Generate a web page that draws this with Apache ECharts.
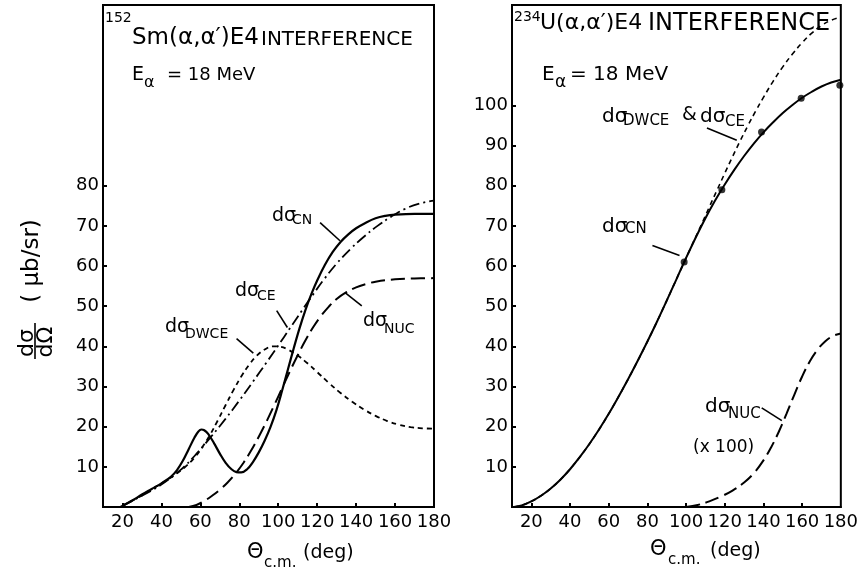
<!DOCTYPE html>
<html>
<head>
<meta charset="utf-8">
<script src="https://cdn.jsdelivr.net/npm/echarts@6/dist/echarts.min.js"></script>
<style>
  html, body { margin: 0; padding: 0; background: #fff; }
  #chart { width: 861px; height: 575px; }
</style>
</head>
<body>
<div id="chart"></div>
<script>
// axis ticks
var angleLabels = [20, 40, 60, 80, 100, 120, 140, 160, 180];
var angleMarks = [20, 40, 60, 80, 100, 120, 140, 160];
var smTicks = [10, 20, 30, 40, 50, 60, 70, 80];
var uTicks = [10, 20, 30, 40, 50, 60, 70, 80, 90, 100];

// 152Sm curves  [theta, dsigma/dOmega]
var smCN = [[19, 0], [25, 1.6], [30, 3.1], [35, 4.5], [40, 5.9], [45, 7.6], [48, 9.2], [51, 11.5],
  [54, 14.4], [57, 17.3], [59, 18.8], [60.5, 19.3], [62, 19.1], [64, 18.2], [67, 15.9], [70, 13.3],
  [73, 11], [76, 9.4], [78.5, 8.7], [81, 8.6], [84, 9.4], [87, 11.2], [90, 13.6], [93, 16.5], [96, 19.9],
  [99, 24], [102, 29], [105, 34.3], [108, 39.6], [111, 44.6], [114, 49.1], [117, 53], [120, 56.4],
  [124, 60.3], [128, 63.5], [132, 66], [136, 67.9], [140, 69.4], [145, 70.8], [150, 71.9], [155, 72.5],
  [160, 72.8], [170, 73], [180, 73]];
var smCE = [[20, 0.3], [30, 2.8], [40, 5.6], [50, 9.3], [57, 12.7], [65, 17.2], [73, 22], [80, 26.5],
  [87, 31.2], [94, 36], [100, 40.2], [106, 44.5], [112, 48.8], [118, 53], [124, 57], [130, 60.6],
  [137, 64.2], [144, 67.3], [151, 70], [158, 72.3], [165, 74.2], [172, 75.5], [180, 76.3]];
var smDWCE = [[20, 0.3], [30, 2.9], [40, 5.9], [46, 7.7], [52, 9.9], [57, 12.3], [61, 14.9], [65, 18],
  [69, 21.6], [73, 25.4], [77, 29.1], [81, 32.5], [85, 35.4], [89, 37.7], [93, 39.2], [97, 40], [101, 39.9],
  [105, 39.2], [110, 37.7], [115, 35.8], [120, 33.6], [126, 30.9], [132, 28.4], [138, 26.2], [144, 24.3],
  [150, 22.7], [156, 21.4], [162, 20.5], [168, 19.9], [174, 19.6], [180, 19.5]];
var smNUC = [[54, 0], [58, 0.5], [62, 1.5], [66, 2.8], [70, 4.3], [74, 6.1], [78, 8.3], [82, 10.9],
  [86, 14], [90, 17.5], [94, 21.3], [98, 25.4], [102, 29.6], [106, 33.8], [110, 37.8], [114, 41.5],
  [118, 44.8], [122, 47.6], [126, 49.9], [130, 51.8], [135, 53.5], [140, 54.7], [145, 55.5], [150, 56.1],
  [160, 56.7], [170, 56.9], [180, 57]];

// 234U curves
var uCN = [[11, 0], [15, 0.4], [20, 1.4], [25, 2.8], [30, 4.6], [35, 6.8], [40, 9.4], [45, 12.4],
  [50, 15.7], [55, 19.3], [60, 23.2], [65, 27.4], [70, 31.8], [75, 36.4], [80, 41.2], [85, 46.2],
  [90, 51.4], [95, 56.7], [100, 62], [105, 67.1], [110, 71.9], [115, 76.3], [120, 80.3], [125, 84],
  [130, 87.4], [135, 90.5], [140, 93.3], [145, 95.8], [150, 98.1], [155, 100.1], [160, 101.9],
  [165, 103.4], [170, 104.7], [175, 105.7], [180, 106.4]];
var uDWCE = [[11, 0], [15, 0.4], [20, 1.4], [25, 2.8], [30, 4.6], [35, 6.8], [40, 9.4], [45, 12.4],
  [50, 15.7], [55, 19.3], [60, 23.2], [65, 27.4], [70, 31.8], [75, 36.4], [80, 41.2], [85, 46.2],
  [90, 51.4], [95, 56.7], [100, 62], [104, 66.2], [108, 70.4], [112, 74.7], [116, 78.9], [120, 83.1],
  [124, 87.2], [128, 91.2], [132, 95], [136, 98.6], [140, 102], [145, 106], [150, 109.6], [155, 112.8],
  [160, 115.6], [165, 118], [170, 119.9], [175, 121.2], [180, 122]];
var uNUC = [[100, 0], [106, 0.5], [112, 1.4], [118, 2.6], [124, 4.1], [130, 6.1], [135, 8.4], [140, 11.6],
  [144, 14.9], [148, 18.8], [152, 23.3], [156, 28], [160, 32.5], [164, 36.3], [168, 39.2], [172, 41.3],
  [176, 42.6], [180, 43.2]];
var uPoints = [[99, 61], [118.5, 79], [139, 93.4], [159.5, 101.8], [179.5, 105]];

// label leader lines, in data units
var smLeaders = [
  [[121.5, 70.8], [131.7, 66.3]],
  [[99.2, 48.9], [104.7, 44.7]],
  [[78.6, 41.9], [87.2, 38.3]],
  [[142.9, 50.1], [134.3, 53.4]]
];
var uLeaders = [
  [[110.8, 94.4], [126.2, 91.3]],
  [[82.6, 65.1], [96.6, 62.6]],
  [[139.1, 24.7], [149.5, 21.5]]
];

var FONT = '"DejaVu Sans", sans-serif';

function txt(x, y, s, size, rot) {
  return {
    type: 'text', x: x, y: y, rotation: rot || 0, silent: true,
    style: {
      text: s, font: size + 'px ' + FONT, fill: '#000',
      textAlign: rot ? 'center' : 'left', align: rot ? 'center' : 'left',
      textVerticalAlign: 'middle', verticalAlign: 'middle'
    }
  };
}

function xAxisOf(i) {
  return {
    type: 'value', gridIndex: i, min: 10, max: 180,
    axisLine: { onZero: false, lineStyle: { color: '#000', width: 2 } },
    axisTick: { inside: true, length: 4, customValues: angleMarks, lineStyle: { color: '#000', width: 2 } },
    axisLabel: { customValues: angleLabels, color: '#000', fontSize: 18, fontFamily: FONT, margin: 6 },
    splitLine: { show: false }
  };
}

function yAxisOf(i, ticks) {
  return {
    type: 'value', gridIndex: i, min: 0, max: 125,
    axisLine: { onZero: false, lineStyle: { color: '#000', width: 2 } },
    axisTick: { inside: true, length: 4, customValues: ticks, lineStyle: { color: '#000', width: 2 } },
    axisLabel: { customValues: ticks, color: '#000', fontSize: 18, fontFamily: FONT, margin: 4 },
    splitLine: { show: false }
  };
}

function curve(data, grid, type, width) {
  return {
    type: 'line', data: data, xAxisIndex: grid, yAxisIndex: grid,
    smooth: 0.4, symbol: 'none', silent: true,
    lineStyle: { color: '#000', width: width, type: type },
    itemStyle: { color: '#000' }
  };
}

var series = [
  curve(smCN, 0, 'solid', 2.2),
  curve(smCE, 0, [11, 4, 2, 4], 1.8),
  curve(smDWCE, 0, [5, 4], 1.8),
  curve(smNUC, 0, [14, 6], 2),
  curve(uCN, 1, 'solid', 2),
  curve(uDWCE, 1, [5, 4], 1.6),
  curve(uNUC, 1, [14, 6], 2),
  {
    type: 'scatter', data: uPoints, xAxisIndex: 1, yAxisIndex: 1,
    symbol: 'circle', symbolSize: 7, silent: true, itemStyle: { color: '#000' }
  }
];
smLeaders.forEach(function (l) {
  series.push({ type: 'line', data: l, xAxisIndex: 0, yAxisIndex: 0, symbol: 'none', silent: true,
    lineStyle: { color: '#000', width: 1.6 } });
});
uLeaders.forEach(function (l) {
  series.push({ type: 'line', data: l, xAxisIndex: 1, yAxisIndex: 1, symbol: 'none', silent: true,
    lineStyle: { color: '#000', width: 1.6 } });
});

var graphics = [
  // left panel titles
  txt(105, 18, '152', 14),
  txt(132, 38, 'Sm(α,α′)E4', 23),
  txt(261, 40, 'INTERFERENCE', 20),
  txt(132, 75, 'E', 19),
  txt(144, 83, 'α', 16),
  txt(167, 75, '= 18 MeV', 18),
  // left curve labels
  txt(272, 216, 'dσ', 19), txt(292, 220, 'CN', 14),
  txt(235, 291, 'dσ', 19), txt(257, 296, 'CE', 14),
  txt(165, 327, 'dσ', 19), txt(185, 334, 'DWCE', 14),
  txt(363, 321, 'dσ', 19), txt(384, 329, 'NUC', 14),
  // left axis titles
  txt(247, 553, 'Θ', 21), txt(264, 563, 'c.m.', 15), txt(303, 553, '(deg)', 19),
  txt(27, 343, 'dσ', 22, Math.PI / 2),
  txt(46, 342, 'dΩ', 22, Math.PI / 2),
  { type: 'line', silent: true, shape: { x1: 35, y1: 323, x2: 35, y2: 359 },
    style: { stroke: '#000', lineWidth: 1.6 } },
  txt(32, 261, '( μb/sr)', 23, Math.PI / 2),
  // right panel titles
  txt(514, 17, '234', 14),
  txt(540, 23, 'U(α,α′)E4', 22),
  txt(648, 24, 'INTERFERENCE', 24),
  txt(542, 75, 'E', 20),
  txt(555, 83, 'α', 17),
  txt(570, 75, '= 18 MeV', 20),
  // right curve labels
  txt(602, 117, 'dσ', 20), txt(623, 121, 'DWCE', 15),
  txt(682, 115, '&', 19),
  txt(700, 117, 'dσ', 20), txt(725, 122, 'CE', 15),
  txt(602, 227, 'dσ', 20), txt(625, 229, 'CN', 15),
  txt(705, 407, 'dσ', 20), txt(728, 414, 'NUC', 15),
  txt(693, 448, '(x 100)', 17),
  // right axis title
  txt(650, 550, 'Θ', 21), txt(668, 560, 'c.m.', 15), txt(710, 551, '(deg)', 19)
];

var myChart = echarts.init(document.getElementById('chart'));
var option = {
  animation: false,
  backgroundColor: '#fff',
  grid: [
    { left: 103, top: 5, width: 331, height: 502, show: true, borderColor: '#000', borderWidth: 2 },
    { left: 512, top: 5, width: 331, height: 502, show: true, borderColor: '#000', borderWidth: 2 }
  ],
  xAxis: [xAxisOf(0), xAxisOf(1)],
  yAxis: [yAxisOf(0, smTicks), yAxisOf(1, uTicks)],
  series: series,
  graphic: graphics
};
myChart.setOption(option);
</script>
</body>
</html>
